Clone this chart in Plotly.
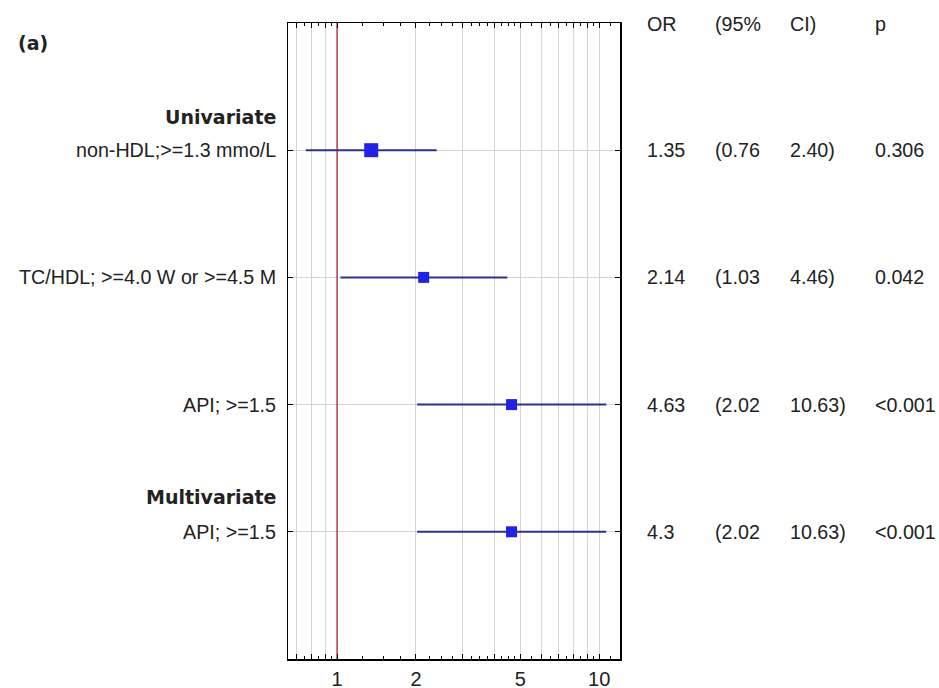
import math
import plotly.graph_objects as go

# ---- data ----
labels = ["non-HDL;>=1.3 mmo/L", "TC/HDL; >=4.0 W or >=4.5 M", "API; >=1.5", "API; >=1.5"]
rows = [1, 2, 3, 4]
or_plotted = [1.35, 2.14, 4.63, 4.63]
ci_low = [0.76, 1.03, 2.02, 2.02]
ci_high = [2.40, 4.46, 10.63, 10.63]
or_text = ["1.35", "2.14", "4.63", "4.3"]
low_text = ["(0.76", "(1.03", "(2.02", "(2.02"]
high_text = ["2.40)", "4.46)", "10.63)", "10.63)"]
p_text = ["0.306", "0.042", "<0.001", "<0.001"]
headers = ["OR", "(95%", "CI)", "p"]
group_titles = ["Univariate", "Multivariate"]
x_tick_vals = [0.7, 0.8, 0.9, 1, 2, 3, 4, 5, 6, 7, 8, 9, 10]
x_tick_text = ["", "", "", "1", "2", "", "", "5", "", "", "", "", "10"]
x_minor_vals = [0.65, 0.75, 0.85, 0.95, 1.25, 1.5, 1.75, 2.25, 2.5, 2.75,
                3.25, 3.5, 3.75, 4.25, 4.5, 4.75, 5.5, 6.5, 7.5, 8.5, 9.5, 11]

W, H = 939, 688
L, R, T, B = 288, 620, 23, 659
FONT = "Liberation Sans, Arial, sans-serif"
BOLD = "DejaVu Sans, Verdana, sans-serif"
TXT = "#222222"

fig = go.Figure()

# reference line at OR = 1
fig.add_trace(go.Scatter(x=[1, 1], y=[0, 5], mode="lines",
                         line=dict(color="#b82035", width=1.3),
                         hoverinfo="skip", showlegend=False))

# CI lines
cx, cy = [], []
for lo, hi, r in zip(ci_low, ci_high, rows):
    cx += [lo, hi, None]
    cy += [r, r, None]
fig.add_trace(go.Scatter(x=cx, y=cy, mode="lines",
                         line=dict(color="#2e3090", width=2),
                         hoverinfo="skip", showlegend=False))

# point estimates
fig.add_trace(go.Scatter(x=or_plotted, y=rows, mode="markers",
                         marker=dict(symbol="square", size=[14, 11, 11, 11],
                                     color="#2222e6", opacity=1, line=dict(width=0)),
                         showlegend=False))

def pxx(px):
    return (px - L) / (R - L)

def pxy(py):
    return (B - py) / (B - T)

annotations = []
# row labels
for lab, r in zip(labels, rows):
    annotations.append(dict(x=pxx(278), y=r, xref="paper", yref="y",
                            text=lab, showarrow=False, xanchor="right", yanchor="middle",
                            font=dict(family=FONT, size=19.7, color=TXT)))
# group titles
for title, yv in zip(group_titles, [0.74, 3.73]):
    annotations.append(dict(x=pxx(278), y=yv, xref="paper", yref="y",
                            text="<b>%s</b>" % title, showarrow=False,
                            xanchor="right", yanchor="middle",
                            font=dict(family=BOLD, size=19, color=TXT)))
# panel label
annotations.append(dict(x=pxx(16), y=pxy(43), xref="paper", yref="paper",
                        text="<b>(a)</b>", showarrow=False, xanchor="left", yanchor="middle",
                        font=dict(family=BOLD, size=19, color=TXT)))
# table
col_px = [645, 713, 788, 873]
for h, cpx in zip(headers, col_px):
    annotations.append(dict(x=pxx(cpx), y=0.01, xref="paper", yref="y",
                            text=h, showarrow=False, xanchor="left", yanchor="middle",
                            font=dict(family=FONT, size=19.7, color=TXT)))
for r, a, b, c, d in zip(rows, or_text, low_text, high_text, p_text):
    for t, cpx in zip([a, b, c, d], col_px):
        annotations.append(dict(x=pxx(cpx), y=r, xref="paper", yref="y",
                                text=t, showarrow=False, xanchor="left", yanchor="middle",
                                font=dict(family=FONT, size=19.7, color=TXT)))

fig.update_layout(
    width=W, height=H,
    margin=dict(l=L, r=W - R, t=T, b=H - B, pad=0, autoexpand=False),
    paper_bgcolor="white", plot_bgcolor="white",
    annotations=annotations,
    xaxis=dict(type="log", range=[math.log10(0.65), math.log10(12.0)],
               tickvals=x_tick_vals, ticktext=x_tick_text,
               showgrid=True, gridcolor="#d4d4d4", gridwidth=1,
               showline=True, linecolor="black", linewidth=1.5, mirror="ticks",
               ticks="inside", ticklen=5, tickcolor="black", tickwidth=1,
               tickfont=dict(family=FONT, size=20, color=TXT),
               ticklabelstandoff=1, automargin=False,
               minor=dict(tickvals=x_minor_vals, ticks="inside", ticklen=3,
                          tickcolor="black", showgrid=False),
               zeroline=False, fixedrange=True),
    yaxis=dict(range=[5, 0], tickvals=rows, showticklabels=False,
               showgrid=True, gridcolor="#d4d4d4", gridwidth=1,
               showline=True, linecolor="black", linewidth=1.5, mirror="ticks",
               ticks="inside", ticklen=5, tickcolor="black", automargin=False,
               zeroline=False, fixedrange=True),
)

fig.write_html(
    "out.html",
    config={"displayModeBar": False, "staticPlot": True},
    post_script="document.body.style.margin='0';document.body.style.overflow='hidden';",
)
